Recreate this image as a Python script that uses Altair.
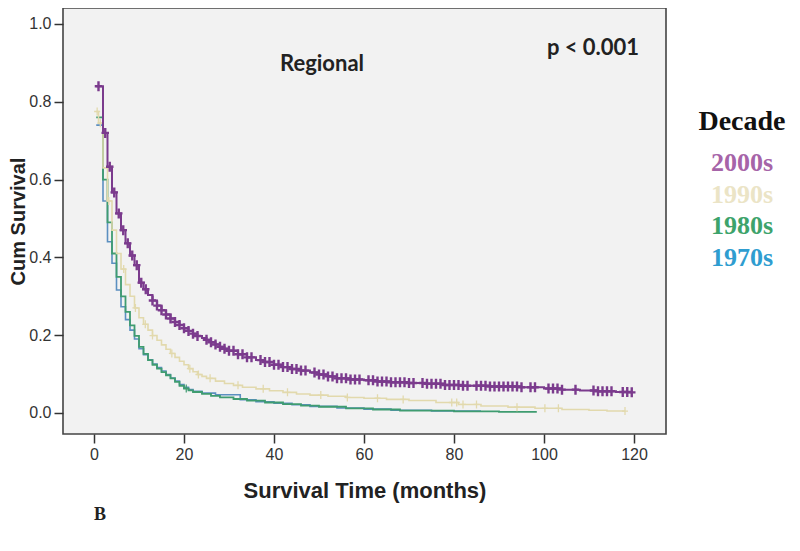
import altair as alt
import pandas as pd

# ---------------- data ----------------
decades = ["2000s", "1990s", "1980s", "1970s"]
line_colors = ["#7b3b8d", "#e2d9ad", "#3f9c70", "#5b8fc0"]
text_colors = ["#a664a8", "#ebe4c6", "#3da36b", "#2f9dd0"]

# Kaplan-Meier step curves: (time in months, cumulative survival)
t_2000 = [0.5, 2, 3, 4, 5, 6, 7, 8, 9, 10, 11, 12, 13, 14, 15, 16, 17, 18, 19, 20,
          21, 22, 23, 24, 25, 26, 27, 28, 29, 30, 32, 34, 36, 38, 40, 42, 44, 46, 48,
          50, 52, 54, 57, 60, 63, 66, 70, 74, 78, 82, 88, 95, 100, 104, 108, 112, 116, 119.5]
s_2000 = [0.840, 0.720, 0.633, 0.567, 0.513, 0.470, 0.436, 0.405, 0.380, 0.335, 0.318,
          0.303, 0.289, 0.276, 0.264, 0.253, 0.243, 0.234, 0.226, 0.218, 0.211, 0.204,
          0.198, 0.193, 0.188, 0.182, 0.176, 0.170, 0.165, 0.160, 0.151, 0.143, 0.136,
          0.131, 0.124, 0.118, 0.113, 0.109, 0.104, 0.099, 0.094, 0.089, 0.086, 0.084,
          0.081, 0.079, 0.077, 0.075, 0.072, 0.070, 0.068, 0.066, 0.063, 0.060, 0.058,
          0.056, 0.054, 0.053]

t_1990 = [0.5, 1, 2, 3, 4, 5, 6, 7, 8, 9, 10, 11, 12, 13, 14, 15, 16, 17, 18, 19, 20,
          21, 22, 23, 24, 25, 27, 29, 31, 33, 36, 39, 42, 45, 48, 52, 56, 60, 65, 70,
          76, 81, 86, 92, 98, 104, 110, 114, 118]
s_1990 = [0.775, 0.745, 0.630, 0.545, 0.470, 0.410, 0.370, 0.330, 0.300, 0.270, 0.245,
          0.228, 0.213, 0.199, 0.187, 0.175, 0.164, 0.153, 0.143, 0.133, 0.124, 0.114,
          0.106, 0.099, 0.094, 0.089, 0.082, 0.076, 0.071, 0.066, 0.062, 0.057, 0.053,
          0.049, 0.046, 0.043, 0.040, 0.038, 0.035, 0.032, 0.027, 0.022, 0.018, 0.015,
          0.012, 0.009, 0.007, 0.005, 0.005]

t_1980 = [0.5, 2, 3, 4, 5, 6, 7, 8, 9, 10, 11, 12, 13, 14, 15, 16, 17, 18, 19, 20, 21,
          22, 24, 26, 28, 31, 34, 38, 42, 46, 50, 56, 62, 68, 80, 90, 98.4]
s_1980 = [0.760, 0.600, 0.490, 0.410, 0.350, 0.300, 0.260, 0.225, 0.198, 0.170, 0.152,
          0.136, 0.124, 0.114, 0.105, 0.097, 0.089, 0.080, 0.070, 0.063, 0.058, 0.054,
          0.049, 0.044, 0.040, 0.036, 0.032, 0.027, 0.023, 0.019, 0.016, 0.012, 0.009,
          0.006, 0.004, 0.003, 0.003]

t_1970 = [0.5, 2, 3, 4, 5, 6, 7, 8, 9, 10, 11, 12, 13, 14, 15, 16, 17, 18, 19, 20, 21,
          22, 24, 27, 32.5, 36, 40, 44, 48, 54, 60, 66, 75, 86]
s_1970 = [0.740, 0.545, 0.440, 0.385, 0.316, 0.273, 0.240, 0.213, 0.190, 0.165, 0.150,
          0.137, 0.126, 0.117, 0.108, 0.099, 0.090, 0.082, 0.073, 0.066, 0.060, 0.056,
          0.051, 0.047, 0.034, 0.029, 0.025, 0.021, 0.017, 0.013, 0.010, 0.007, 0.005,
          0.005]

# censoring times (the "+" marks)
c_2000 = [1, 2.5, 3.5, 4.5, 5.5, 6.5, 7.5, 8.5, 9.5, 10.5, 11.5, 13, 14, 15, 16, 17, 18,
          19, 20, 21, 22, 23, 25, 26, 27, 28, 29, 30, 31, 32, 33, 34, 35, 37, 38, 39, 40,
          41, 42, 43, 44, 45, 46, 47, 49, 50, 51, 52, 53, 54, 55, 56, 57, 58, 59, 61, 62,
          63, 64, 65, 66, 67, 68, 69, 70, 71, 73, 74, 75, 76, 77, 78, 79, 80, 81, 82, 83,
          85, 86, 87, 88, 89, 90, 91, 92, 93, 94, 95, 97, 98, 101, 102, 103, 104, 107,
          111, 112, 113, 114, 115, 117.5, 118.5, 119.5]
c_1990 = [0.7, 1.4, 3.3, 6.6, 9.2, 11.4, 13, 17.3, 21.3, 23.2, 25.8, 32, 37.6, 43, 50.4,
          56.3, 63, 68.7, 79.5, 80.6, 82, 85, 94, 100.2, 103.2, 118]
c_1980 = [20.5]

curves = {"2000s": (t_2000, s_2000), "1990s": (t_1990, s_1990),
          "1980s": (t_1980, s_1980), "1970s": (t_1970, s_1970)}
censors = {"2000s": c_2000, "1990s": c_1990, "1980s": c_1980}


def step_value(ts, ss, t):
    v = ss[0]
    for ti, si in zip(ts, ss):
        if ti <= t:
            v = si
    return v


x_ticks = [0, 20, 40, 60, 80, 100, 120]
y_ticks = [0.0, 0.2, 0.4, 0.6, 0.8, 1.0]

# ---------------- chart ----------------
W, H = 603, 426
xscale = alt.Scale(domain=[-6.889, 127.111], nice=False, zero=False)
yscale = alt.Scale(domain=[-0.054, 1.041], nice=False, zero=False)

x_axis = alt.Axis(values=x_ticks, title="Survival Time (months)", titleX=W / 2, titleY=56,
                  titleBaseline="middle", titleAlign="center")
y_axis = alt.Axis(values=y_ticks, format=".1f", title="Cum Survival", titleX=-45,
                  titleY=H / 2, titleAngle=270, titleBaseline="middle", titleAlign="center",
                  titleFontSize=20)

styles = {
    "2000s": dict(width=2.0, mark_w=2.4, mark_size=100),
    "1990s": dict(width=1.6, mark_w=1.3, mark_size=64),
    "1980s": dict(width=1.8, mark_w=1.2, mark_size=64),
    "1970s": dict(width=1.6, mark_w=1.2, mark_size=64),
}
color_of = dict(zip(decades, line_colors))
plus_path = "M0,-1L0,1M-0.75,0L0.75,0"

layers = []
first = True
for dec in ["1970s", "1980s", "1990s", "2000s"]:
    ts, ss = curves[dec]
    df = pd.DataFrame({"t": ts, "s": ss, "decade": dec})
    enc_x = alt.X("t:Q", scale=xscale, axis=x_axis)
    enc_y = alt.Y("s:Q", scale=yscale, axis=y_axis if first else None)
    first = False
    layers.append(
        alt.Chart(df).mark_line(interpolate="step-after", color=color_of[dec],
                                strokeWidth=styles[dec]["width"])
        .encode(x=enc_x, y=enc_y)
    )
    if dec in censors:
        cts = censors[dec]
        cdf = pd.DataFrame({"t": cts, "s": [step_value(ts, ss, c) for c in cts]})
        layers.append(
            alt.Chart(cdf).mark_point(shape=plus_path, filled=False, color=color_of[dec],
                                      strokeWidth=styles[dec]["mark_w"],
                                      size=styles[dec]["mark_size"], opacity=1)
            .encode(x=alt.X("t:Q", scale=xscale, axis=x_axis),
                    y=alt.Y("s:Q", scale=yscale, axis=None))
        )

# annotations inside the plot
ann_regional = alt.Chart(pd.DataFrame({"label": ["Regional"]})).mark_text(
    font="Lato", fontWeight="bold", fontSize=22, color="#222222", align="center",
    baseline="alphabetic").encode(text="label:N", x=alt.value(259), y=alt.value(63))
ann_p = alt.Chart(pd.DataFrame({"label": ["p < 0.001"]})).mark_text(
    font="Lato", fontWeight="bold", fontSize=22, color="#222222", align="center",
    baseline="alphabetic").encode(text="label:N", x=alt.value(530), y=alt.value(47))

# legend (coloured text, no symbols)
legend_title = alt.Chart(pd.DataFrame({"label": ["Decade"]})).mark_text(
    font="Liberation Serif", fontWeight="bold", fontSize=28, color="#111111",
    align="center", baseline="middle").encode(text="label:N", x=alt.value(679),
                                             y=alt.value(114))
legend_items = alt.Chart(pd.DataFrame({"decade": decades})).mark_text(
    font="Liberation Serif", fontWeight="bold", fontSize=26, align="center",
    baseline="middle").encode(
    text="decade:N",
    x=alt.value(679),
    y=alt.Y("decade:N", sort=decades, axis=None,
            scale=alt.Scale(type="point", range=[155, 250], padding=0)),
    color=alt.Color("decade:N", sort=decades,
                    scale=alt.Scale(domain=decades, range=text_colors), legend=None),
)

panel_b = alt.Chart(pd.DataFrame({"label": ["B"]})).mark_text(
    font="Liberation Serif", fontWeight="bold", fontSize=18, color="#222222",
    align="center", baseline="middle").encode(text="label:N", x=alt.value(37),
                                             y=alt.value(507))

chart = alt.layer(*layers, ann_regional, ann_p, legend_title, legend_items, panel_b).resolve_scale(
    y="independent"
).properties(
    width=W, height=H,
    autosize=alt.AutoSizeParams(type="none"),
    padding={"left": 55, "top": 0, "right": 120, "bottom": 95},
    background="white",
).configure_view(
    fill="#f2f2f2", stroke="#444444", strokeWidth=1.6
).configure_axis(
    grid=False, domain=False, tickColor="#333333", tickWidth=1.5, tickSize=9,
    labelFont="Liberation Sans", labelFontSize=16, labelColor="#333333", labelPadding=3,
    titleFont="Liberation Sans", titleFontSize=22, titleFontWeight="bold",
    titleColor="#222222"
)

chart.save("out.html", embed_options={"renderer": "svg", "actions": False})
